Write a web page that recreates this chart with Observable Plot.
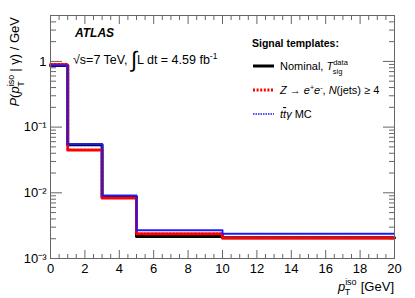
<!DOCTYPE html>
<html>
<head>
<meta charset="utf-8">
<script src="https://cdn.jsdelivr.net/npm/d3@7"></script>
<script src="https://cdn.jsdelivr.net/npm/@observablehq/plot@0.6"></script>
<style>
  html, body { margin: 0; padding: 0; background: #fff; }
  #chart { width: 415px; height: 298px; }
  svg text { font-family: "Liberation Sans", Arial, sans-serif; }
</style>
</head>
<body>
<div id="chart"></div>
<script>
// ---- data (bin edges and per-bin densities) ----
const binEdges = [0, 1, 3, 5, 10, 20];
const nominal  = [0.87, 0.054, 0.0086, 0.00217, 0.00207];
const zee      = [0.90, 0.045, 0.0083, 0.00238, 0.00205];
const ttgamma  = [0.87, 0.055, 0.0091, 0.00268, 0.00238];

const xMajorTicks = [0, 2, 4, 6, 8, 10, 12, 14, 16, 18, 20];
const xMinorTicks = d3.range(0, 20.01, 0.5).filter(v => v % 2 !== 0);
const yMajorTicks = [0.001, 0.01, 0.1, 1];
const yTickLabels = ["10\u207B\u00B3", "10\u207B\u00B2", "10\u207B\u00B9", "1"];
const yMinorTicks = [0.001, 0.01, 0.1, 1].flatMap(d => [2,3,4,5,6,7,8,9].map(m => +(m * d).toPrecision(3))).filter(v => v <= 5);

const steps = vals => binEdges.map((x, i) => ({x, y: vals[Math.min(i, vals.length - 1)]}));

const frameColor = "#666";
const W = 415, H = 298;

const plot = Plot.plot({
  width: W, height: H,
  marginLeft: 50, marginRight: 21, marginTop: 15, marginBottom: 40,
  style: {fontFamily: "Liberation Sans, Arial, sans-serif", fontSize: "13px", color: "#000", background: "#fff"},
  x: {domain: [0, 20]},
  y: {type: "log", domain: [0.001, 5]},
  marks: [
    // minor/major ticks, inward, on all four sides
    Plot.axisX({anchor: "bottom", ticks: xMinorTicks, tickSize: -4, tickFormat: () => "", label: null, stroke: frameColor}),
    Plot.axisX({anchor: "top", ticks: xMinorTicks, tickSize: -4, tickFormat: () => "", label: null, stroke: frameColor}),
    Plot.axisX({anchor: "bottom", ticks: xMajorTicks, tickSize: -8, tickFormat: () => "", label: null, stroke: frameColor}),
    Plot.axisX({anchor: "top", ticks: xMajorTicks, tickSize: -8, tickFormat: () => "", label: null, stroke: frameColor}),
    Plot.axisX({anchor: "bottom", ticks: xMajorTicks, tickSize: 0, tickPadding: 5, tickFormat: d => String(d), label: null, fontSize: 13}),
    Plot.axisY({anchor: "left", ticks: yMinorTicks, tickSize: -6, tickFormat: () => "", label: null, stroke: frameColor}),
    Plot.axisY({anchor: "right", ticks: yMinorTicks, tickSize: -6, tickFormat: () => "", label: null, stroke: frameColor}),
    Plot.axisY({anchor: "left", ticks: yMajorTicks, tickSize: -12, tickFormat: () => "", label: null, stroke: frameColor}),
    Plot.axisY({anchor: "right", ticks: yMajorTicks, tickSize: -12, tickFormat: () => "", label: null, stroke: frameColor}),
    Plot.axisY({anchor: "left", ticks: yMajorTicks, tickSize: 0, tickPadding: 4,
      tickFormat: d => yTickLabels[yMajorTicks.indexOf(d)], label: null, fontSize: 13}),
    // histograms
    Plot.line(steps(nominal), {x: "x", y: "y", curve: "step-after", stroke: "#000", strokeWidth: 3}),
    Plot.line(steps(zee), {x: "x", y: "y", curve: "step-after", stroke: "#ff0000", strokeWidth: 3, strokeDasharray: "2,1.6"}),
    Plot.line(steps(ttgamma), {x: "x", y: "y", curve: "step-after", stroke: "#1a1aff", strokeWidth: 2, strokeDasharray: "1.2,1"}),
    Plot.frame({stroke: frameColor})
  ]
});

document.getElementById("chart").appendChild(plot);

// ---- annotations ----
const svg = d3.select(plot);
const g = svg.append("g").attr("fill", "#000").attr("text-anchor", "start")
  .style("font-family", "Liberation Sans, Arial, sans-serif");

// y title
const yt = g.append("text")
  .attr("transform", "translate(19,17) rotate(-90)")
  .attr("text-anchor", "end")
  .style("font-size", "13px");
yt.append("tspan").style("font-style", "italic").text("P");
yt.append("tspan").text("(");
yt.append("tspan").style("font-style", "italic").text("p");
yt.append("tspan").attr("dy", -5).style("font-size", "9px").text("iso");
yt.append("tspan").attr("dx", -12).attr("dy", 10).style("font-size", "9px").text("T");
yt.append("tspan").attr("dx", 6).attr("dy", -5).text(" | \u03B3) / GeV");

// x title
const xt = g.append("text")
  .attr("x", 394).attr("y", 291)
  .attr("text-anchor", "end")
  .style("font-size", "13px");
xt.append("tspan").style("font-style", "italic").text("p");
xt.append("tspan").attr("dy", -6).style("font-size", "9px").text("iso");
xt.append("tspan").attr("dx", -12).attr("dy", 10).style("font-size", "9px").text("T");
xt.append("tspan").attr("dx", 7).attr("dy", -4).text(" [GeV]");

// ATLAS
g.append("text").attr("x", 75).attr("y", 37)
  .style("font-size", "12px").style("font-weight", "bold").style("font-style", "italic").text("ATLAS");

// sqrt(s), luminosity
const lt = g.append("text").attr("x", 73).attr("y", 64).style("font-size", "12.5px");
lt.append("tspan").text("\u221As=7 TeV, ");
lt.append("tspan").style("font-size", "22px").attr("dy", 3).text("\u222B");
lt.append("tspan").attr("dy", -3).text("L dt = 4.59 fb");
lt.append("tspan").attr("dy", -5).style("font-size", "8.5px").text("-1");

// legend
g.append("text").attr("x", 252).attr("y", 47)
  .style("font-size", "10.5px").style("font-weight", "bold").text("Signal templates:");

const legendItems = [
  {y: 66, stroke: "#000000", width: 3, dash: null},
  {y: 90, stroke: "#ff0000", width: 3, dash: "2,1.6"},
  {y: 114, stroke: "#5050ff", width: 2, dash: "1.5,1"}
];
legendItems.forEach(d => {
  const ln = svg.append("line").attr("x1", 253).attr("x2", 274).attr("y1", d.y).attr("y2", d.y)
    .style("stroke", d.stroke).style("stroke-width", d.width);
  if (d.dash) ln.style("stroke-dasharray", d.dash);
});

const l1 = g.append("text").attr("x", 280).attr("y", 70).style("font-size", "11px");
l1.append("tspan").text("Nominal, ");
l1.append("tspan").style("font-style", "italic").text("T");
l1.append("tspan").attr("dy", -5).style("font-size", "7.5px").text("data");
l1.append("tspan").attr("dx", -15).attr("dy", 9).style("font-size", "7.5px").text("sig");

const l2 = g.append("text").attr("x", 280).attr("y", 94).style("font-size", "11px");
l2.append("tspan").style("font-style", "italic").text("Z \u2192 e");
l2.append("tspan").attr("dy", -4).style("font-size", "7px").text("+");
l2.append("tspan").attr("dy", 4).style("font-style", "italic").text("e");
l2.append("tspan").attr("dy", -4).style("font-size", "7px").text("-");
l2.append("tspan").attr("dy", 4).text(", ");
l2.append("tspan").style("font-style", "italic").text("N");
l2.append("tspan").text("(jets) \u2265 4");

const l3 = g.append("text").attr("x", 280).attr("y", 118).style("font-size", "11px");
l3.append("tspan").style("font-style", "italic").text("t");
l3.append("tspan").style("font-style", "italic").style("text-decoration", "overline").text("t");
l3.append("tspan").style("font-style", "italic").text("\u03B3");
l3.append("tspan").text(" MC");
</script>
</body>
</html>
